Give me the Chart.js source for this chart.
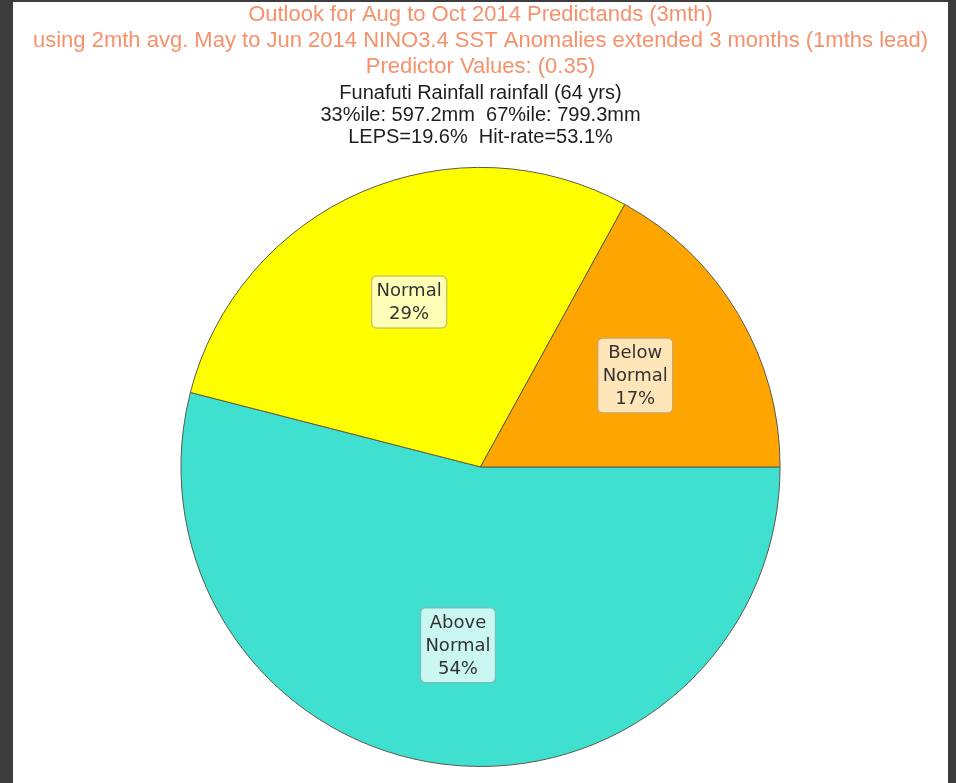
<!DOCTYPE html>
<html lang="en">
<head>
    <meta charset="UTF-8">
    <title>Funafuti Rainfall Outlook</title>
    <script src="https://cdn.jsdelivr.net/npm/chart.js"></script>
    <style>
        html, body { margin: 0; padding: 0; }
        body { width: 956px; height: 783px; background: #3c3c3c; position: relative; overflow: hidden; }
        #panel { position: absolute; left: 13px; top: 2px; width: 935px; height: 781px; background: #ffffff; }
    </style>
</head>
<body>
    <div id="panel"><canvas id="pieChart" width="935" height="781"></canvas></div>

    <script>
        const titleLines = [
            'Outlook for Aug to Oct 2014 Predictands (3mth)',
            'using 2mth avg. May to Jun 2014 NINO3.4 SST Anomalies extended 3 months (1mths lead)',
            'Predictor Values: (0.35)'
        ];
        const subtitleLines = [
            'Funafuti Rainfall rainfall (64 yrs)',
            '33%ile: 597.2mm  67%ile: 799.3mm',
            'LEPS=19.6%  Hit-rate=53.1%'
        ];
        const categories = [['Above', 'Normal'], ['Normal'], ['Below', 'Normal']];
        const probabilities = [54, 29, 17];
        const sliceColors = ['#40e0d0', '#ffff00', '#ffa500'];
        const boxEdgeColors = ['#6fc4bb', '#cfc85a', '#d8a556'];

        // boxed labels at 0.6 of the radius, like the original
        const boxLabels = {
            id: 'boxLabels',
            afterDatasetsDraw(chart) {
                const ctx = chart.ctx;
                const meta = chart.getDatasetMeta(0);
                ctx.save();
                ctx.font = '18px "DejaVu Sans"';
                ctx.textAlign = 'center';
                ctx.textBaseline = 'middle';
                meta.data.forEach((arc, i) => {
                    const p = arc.getProps(['x', 'y', 'startAngle', 'endAngle', 'outerRadius'], true);
                    const mid = (p.startAngle + p.endAngle) / 2;
                    const cx = p.x + Math.cos(mid) * p.outerRadius * 0.6;
                    const cy = p.y + Math.sin(mid) * p.outerRadius * 0.6;
                    const lines = categories[i].concat([probabilities[i] + '%']);
                    const lh = 23;
                    const w = Math.max(...lines.map(l => ctx.measureText(l).width)) + 10;
                    const h = lines.length * lh + 6;
                    ctx.beginPath();
                    ctx.roundRect(cx - w / 2, cy - h / 2, w, h, 5);
                    ctx.fillStyle = 'rgba(255,255,255,0.72)';
                    ctx.fill();
                    ctx.lineWidth = 1.5;
                    ctx.strokeStyle = boxEdgeColors[i];
                    ctx.stroke();
                    ctx.fillStyle = '#333333';
                    lines.forEach((l, k) => {
                        ctx.fillText(l, cx, cy - (lines.length - 1) * lh / 2 + k * lh + 1);
                    });
                });
                ctx.restore();
            }
        };

        const ctx = document.getElementById('pieChart').getContext('2d');
        new Chart(ctx, {
            type: 'pie',
            data: {
                labels: categories.map(c => c.join(' ')),
                datasets: [{
                    data: probabilities,
                    backgroundColor: sliceColors,
                    borderColor: '#5a5a48',
                    borderWidth: 1
                }]
            },
            options: {
                responsive: false,
                animation: false,
                rotation: 90,
                layout: { padding: { top: 0, bottom: 16, left: 0, right: 0 } },
                plugins: {
                    legend: { display: false },
                    tooltip: { enabled: false },
                    title: {
                        display: true,
                        text: titleLines,
                        color: '#f7916c',
                        font: { family: '"Liberation Sans", Arial, sans-serif', size: 22, weight: 'normal', lineHeight: 1.18 },
                        padding: { top: 0, bottom: 3 }
                    },
                    subtitle: {
                        display: true,
                        text: subtitleLines,
                        color: '#1e1e1e',
                        font: { family: '"Liberation Sans", Arial, sans-serif', size: 20, weight: 'normal', lineHeight: 1.1 },
                        padding: { top: 0, bottom: 18 }
                    }
                }
            },
            plugins: [boxLabels]
        });
    </script>
</body>
</html>
